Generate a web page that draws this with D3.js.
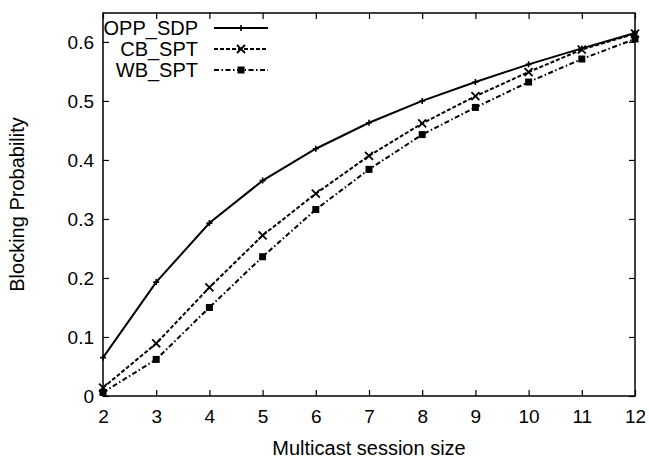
<!DOCTYPE html>
<html>
<head>
<meta charset="utf-8">
<script src="https://cdn.jsdelivr.net/npm/d3@7"></script>
<style>
  body { margin: 0; background: #fff; }
  text { font-family: "Liberation Sans", Arial, sans-serif; fill: #000; }
</style>
</head>
<body>
<svg id="chart" width="649" height="458"></svg>
<script>
// session sizes on the x axis
const sessionSize = [2, 3, 4, 5, 6, 7, 8, 9, 10, 11, 12];

// blocking probability per scheme
const oppSdp = [0.065, 0.193, 0.293, 0.365, 0.419, 0.463, 0.500, 0.532, 0.562, 0.589, 0.615];
const cbSpt  = [0.014, 0.089, 0.184, 0.272, 0.343, 0.407, 0.462, 0.508, 0.549, 0.587, 0.614];
const wbSpt  = [0.006, 0.062, 0.150, 0.236, 0.316, 0.384, 0.443, 0.489, 0.532, 0.571, 0.605];

const seriesNames = ["OPP_SDP", "CB_SPT", "WB_SPT"];
const yTicks = [0, 0.1, 0.2, 0.3, 0.4, 0.5, 0.6];
const xTitle = "Multicast session size";
const yTitle = "Blocking Probability";

const margin = {top: 13, right: 14, bottom: 62, left: 103};
const width = 649 - margin.left - margin.right;
const height = 458 - margin.top - margin.bottom;

const svg = d3.select('#chart');
const g = svg.append('g').attr('transform', `translate(${margin.left},${margin.top})`);

const scalex = d3.scaleLinear().domain([2, 12]).range([0, width]);
const scaley = d3.scaleLinear().domain([0, 0.649]).range([height, 0]);

// gnuplot style: ticks point inward, mirrored on top/right
const tickLen = 6;
function styleAxis(sel) {
    sel.select('.domain').remove();
    sel.selectAll('line').attr('stroke', '#000').attr('stroke-width', 1.2);
    sel.selectAll('text').style('font-size', '19px');
}

g.append('g')
    .attr('transform', `translate(0,${height})`)
    .call(d3.axisBottom(scalex).tickValues(sessionSize).tickFormat(d3.format('d'))
        .tickSizeInner(-tickLen).tickSizeOuter(0).tickPadding(14))
    .call(styleAxis);

g.append('g')
    .call(d3.axisTop(scalex).tickValues(sessionSize).tickFormat('')
        .tickSizeInner(-tickLen).tickSizeOuter(0))
    .call(styleAxis);

g.append('g')
    .call(d3.axisLeft(scaley).tickValues(yTicks).tickFormat(d3.format('~g'))
        .tickSizeInner(-tickLen).tickSizeOuter(0).tickPadding(9))
    .call(styleAxis);

g.append('g')
    .attr('transform', `translate(${width},0)`)
    .call(d3.axisRight(scaley).tickValues(yTicks).tickFormat('')
        .tickSizeInner(-tickLen).tickSizeOuter(0))
    .call(styleAxis);

// frame
g.append('rect')
    .attr('x', 0).attr('y', 0)
    .attr('width', width).attr('height', height)
    .attr('fill', 'none').attr('stroke', '#000').attr('stroke-width', 1.5);

// axis titles
svg.append('text')
    .attr('x', margin.left + width / 2).attr('y', 455)
    .attr('text-anchor', 'middle')
    .style('font-size', '20px')
    .text(xTitle);

svg.append('text')
    .attr('transform', `translate(24,${margin.top + height / 2}) rotate(-90)`)
    .attr('text-anchor', 'middle')
    .style('font-size', '20px')
    .text(yTitle);

const dashes = [null, '4,2', '5,2.5,1.5,2.5'];
const markers = ['plus', 'cross', 'box'];
const allSeries = [oppSdp, cbSpt, wbSpt];

function drawMarker(sel, kind, x, y) {
    if (kind === 'plus') {
        const s = 3;
        sel.append('path').attr('d', `M${x - s},${y}H${x + s}M${x},${y - s}V${y + s}`)
            .attr('stroke', '#000').attr('stroke-width', 1.6);
    } else if (kind === 'cross') {
        const s = 4;
        sel.append('path').attr('d', `M${x - s},${y - s}L${x + s},${y + s}M${x - s},${y + s}L${x + s},${y - s}`)
            .attr('stroke', '#000').attr('stroke-width', 1.8);
    } else {
        sel.append('rect').attr('x', x - 3.5).attr('y', y - 3.5)
            .attr('width', 7).attr('height', 7).attr('fill', '#000');
    }
}

const line = d3.line()
    .x(function(d) { return scalex(d.x); })
    .y(function(d) { return scaley(d.y); });

allSeries.forEach(function(vals, i) {
    const data = sessionSize.map((x, j) => ({x: x, y: vals[j]}));
    g.append('path')
        .datum(data)
        .attr('fill', 'none')
        .attr('stroke', '#000')
        .attr('stroke-width', 2)
        .attr('stroke-dasharray', dashes[i])
        .attr('d', line);
    const mg = g.append('g');
    data.forEach(d => drawMarker(mg, markers[i], scalex(d.x), scaley(d.y)));
});

// legend, top-left inside the frame
const legend = svg.append('g');
seriesNames.forEach(function(name, i) {
    const y = 28 + i * 21;
    legend.append('text')
        .attr('x', 198).attr('y', y)
        .attr('dy', '0.35em')
        .attr('text-anchor', 'end')
        .style('font-size', '20px')
        .text(name);
    legend.append('line')
        .attr('x1', 214).attr('x2', 268)
        .attr('y1', y).attr('y2', y)
        .attr('stroke', '#000').attr('stroke-width', 2)
        .attr('stroke-dasharray', dashes[i]);
    drawMarker(legend, markers[i], 241, y);
});
</script>
</body>
</html>
